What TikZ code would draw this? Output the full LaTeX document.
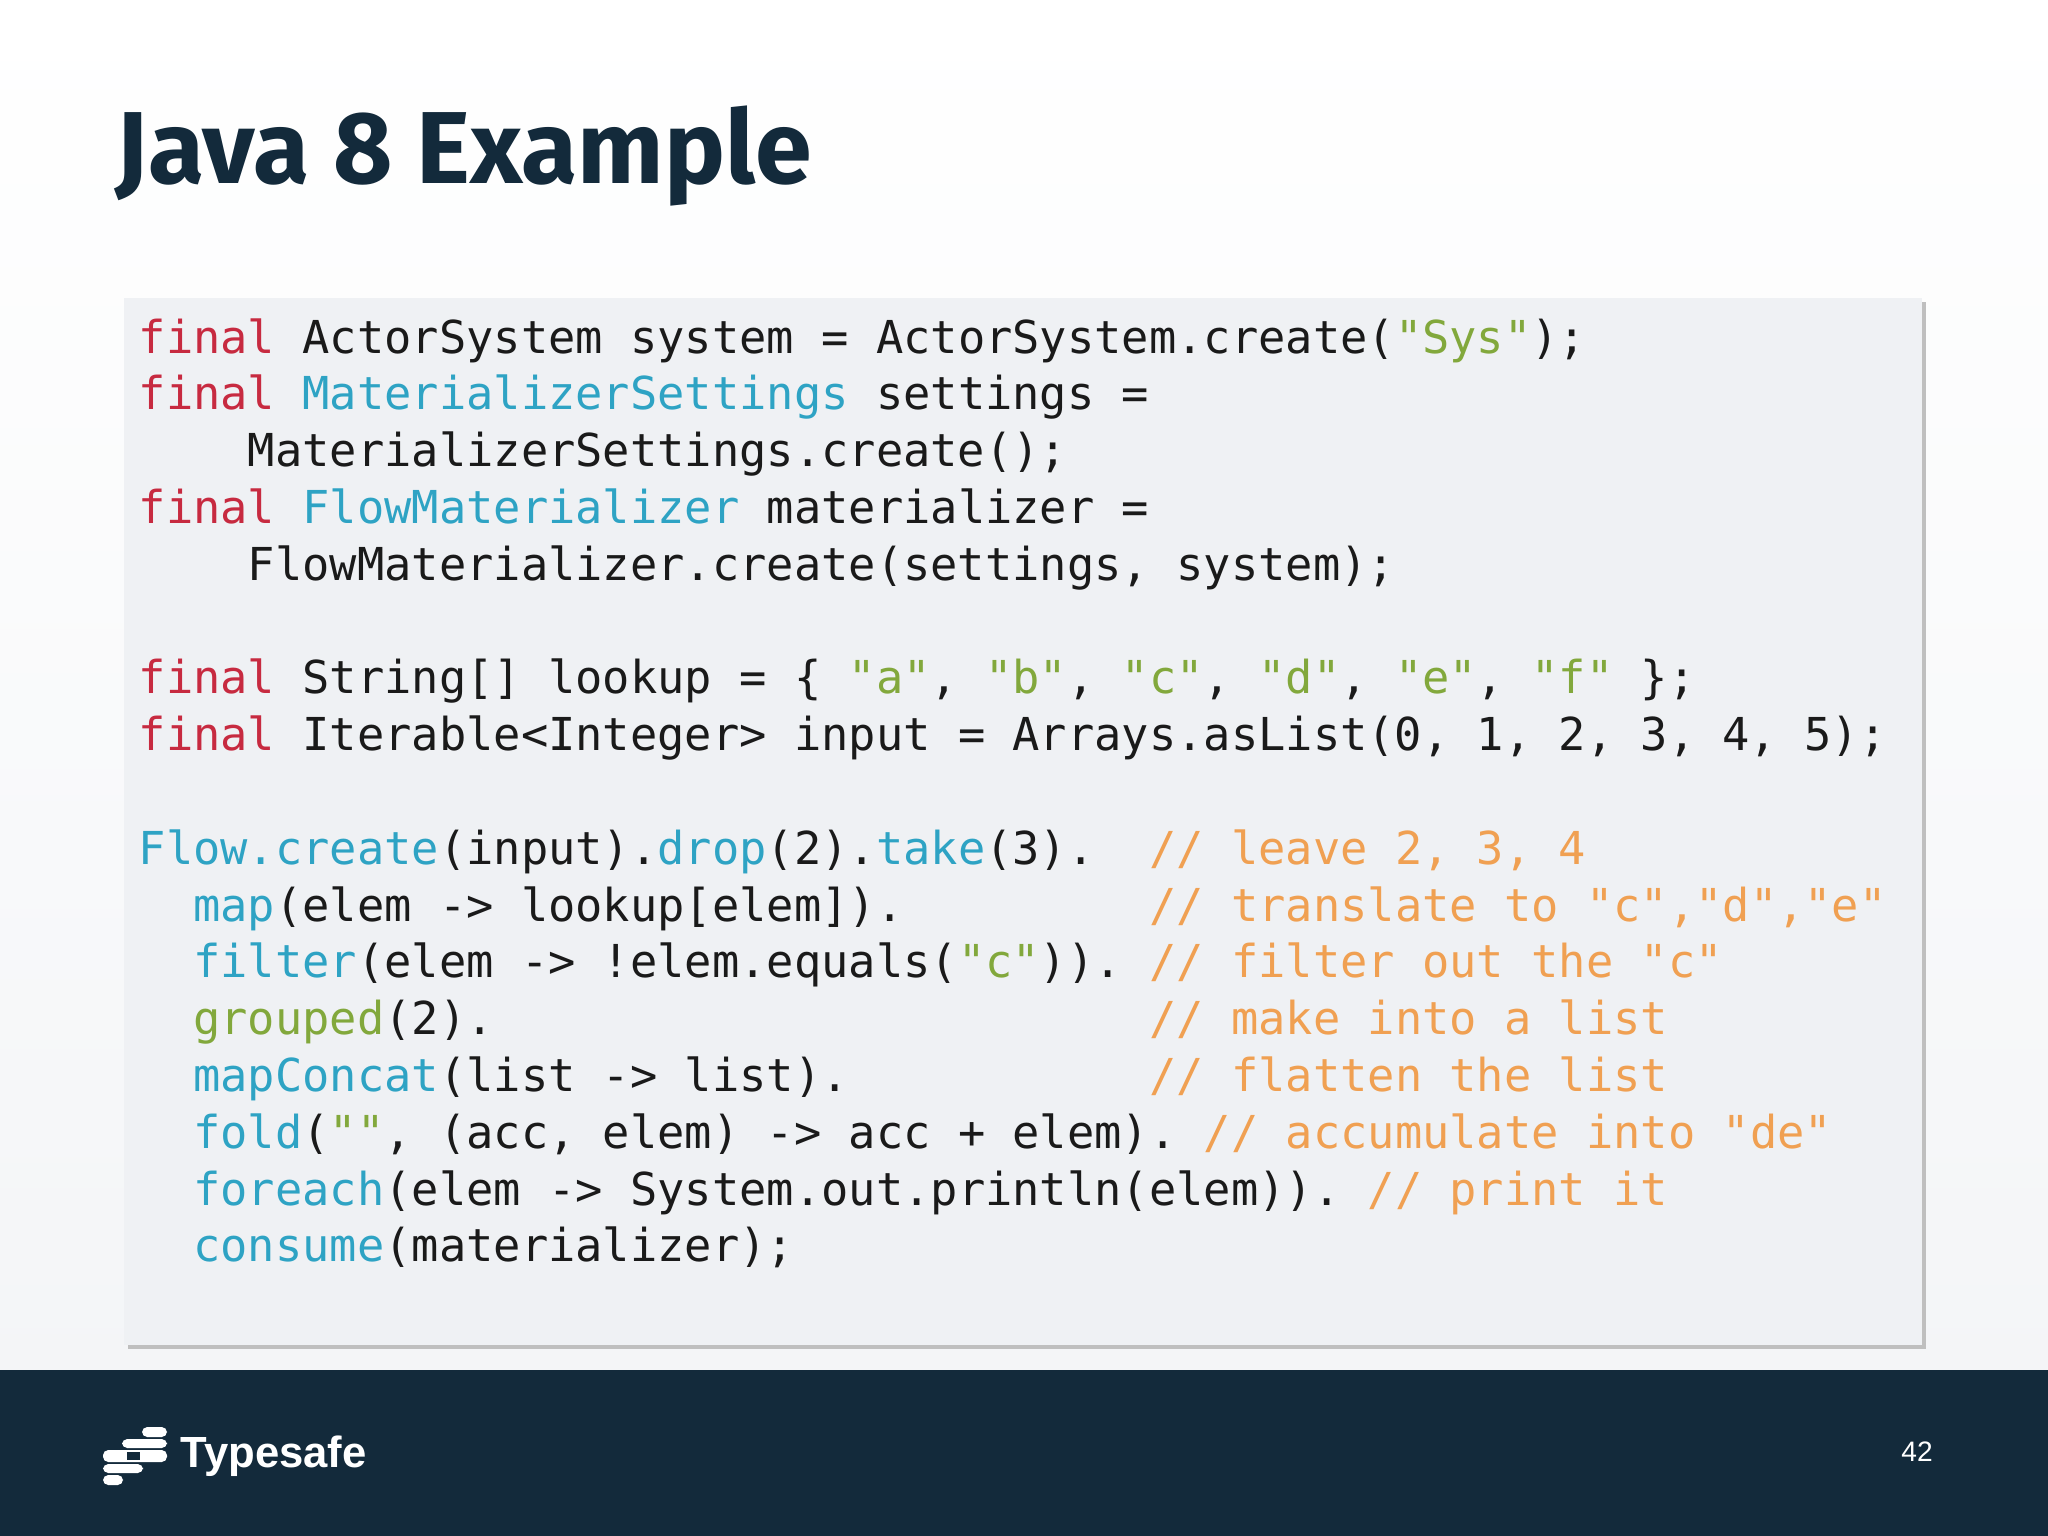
\documentclass[tikz,border=0pt]{standalone}
\usepackage{fontspec}
\setmainfont{Fira Sans}
\setmonofont{DejaVu Sans Mono}
\newfontfamily\logofont{Liberation Sans}
\usetikzlibrary{shadows}
\definecolor{navy}{HTML}{132A3B}
\definecolor{kwc}{HTML}{C72A40}
\definecolor{tyc}{HTML}{2EA3C4}
\definecolor{stc}{HTML}{82A83C}
\definecolor{cmc}{HTML}{F0A052}
\definecolor{codebg}{HTML}{EFF1F4}
\definecolor{codetx}{HTML}{1A1A1A}
\newcommand{\kw}[1]{\textcolor{kwc}{#1}}
\newcommand{\ty}[1]{\textcolor{tyc}{#1}}
\newcommand{\st}[1]{\textcolor{stc}{#1}}
\newcommand{\cm}[1]{\textcolor{cmc}{#1}}
\tikzset{codeline/.style={anchor=base west,inner sep=0pt,font=\fontsize{12.9pt}{15pt}\ttfamily,text=codetx}}
\begin{document}
\begin{tikzpicture}[x=0.01cm,y=-0.01cm]
\useasboundingbox (0,0) rectangle (2048,1536);
\shade[top color=white,bottom color=codebg!70] (0,0) rectangle (2048,1370);
\fill[navy] (0,1370) rectangle (2048,1536);
\node[anchor=base west,inner sep=0pt,font=\fontsize{29.1pt}{34pt}\selectfont\bfseries,text=navy] (title) at (115,183) {Java 8 Example};
\fill[black!25] (128,302) rectangle (1926,1349);
\fill[codebg] (124,298) rectangle (1922,1345);
\def\L#1{353+56.8*#1}
\node[codeline] (l0) at (138,{\L0}) {\kw{final} ActorSystem system = ActorSystem.create(\st{"Sys"});};
\node[codeline] (l1) at (138,{\L1}) {\kw{final} \ty{MaterializerSettings} settings =};
\node[codeline] (l2) at (138,{\L2}) {\ \ \ \ MaterializerSettings.create();};
\node[codeline] (l3) at (138,{\L3}) {\kw{final} \ty{FlowMaterializer} materializer =};
\node[codeline] (l4) at (138,{\L4}) {\ \ \ \ FlowMaterializer.create(settings, system);};
\node[codeline] (l6) at (138,{\L6}) {\kw{final} String[] lookup = \{ \st{"a"}, \st{"b"}, \st{"c"}, \st{"d"}, \st{"e"}, \st{"f"} \};};
\node[codeline] (l7) at (138,{\L7}) {\kw{final} Iterable<Integer> input = Arrays.asList(0, 1, 2, 3, 4, 5);};
\node[codeline] (l9) at (138,{\L9}) {\ty{Flow.create}(input).\ty{drop}(2).\ty{take}(3).\ \ \cm{//\ leave\ 2,\ 3,\ 4}};
\node[codeline] (l10) at (138,{\L{10}}) {\ \ \ty{map}(elem -> lookup[elem]).\ \ \ \ \ \ \ \ \ \cm{//\ translate\ to\ "c","d","e"}};
\node[codeline] (l11) at (138,{\L{11}}) {\ \ \ty{filter}(elem -> !elem.equals(\st{"c"})).\ \cm{//\ filter\ out\ the\ "c"}};
\node[codeline] (l12) at (138,{\L{12}}) {\ \ \st{grouped}(2).\ \ \ \ \ \ \ \ \ \ \ \ \ \ \ \ \ \ \ \ \ \ \ \ \cm{//\ make\ into\ a\ list}};
\node[codeline] (l13) at (138,{\L{13}}) {\ \ \ty{mapConcat}(list -> list).\ \ \ \ \ \ \ \ \ \ \ \cm{//\ flatten\ the\ list}};
\node[codeline] (l14) at (138,{\L{14}}) {\ \ \ty{fold}(\st{""}, (acc, elem) -> acc + elem).\ \cm{//\ accumulate\ into\ "de"}};
\node[codeline] (l15) at (138,{\L{15}}) {\ \ \ty{foreach}(elem -> System.out.println(elem)).\ \cm{//\ print\ it}};
\node[codeline] (l16) at (138,{\L{16}}) {\ \ \ty{consume}(materializer);};
% logo
\begin{scope}[white]
\fill[rounded corners=1.5pt] (142,1427) rectangle (167,1437);
\fill[rounded corners=1.5pt] (122,1439) rectangle (167,1448);
\fill[rounded corners=1.5pt] (103,1450) rectangle (167,1462);
\fill[rounded corners=1.5pt] (103,1464) rectangle (143,1473);
\fill[rounded corners=1.5pt] (103,1475) rectangle (123,1485);
\fill[navy] (127,1452) rectangle (140,1460);
\end{scope}
\node[anchor=base west,inner sep=0pt,font=\logofont\bfseries\fontsize{12.4pt}{14pt}\selectfont,text=white] (logo) at (180,1467) {Typesafe};
\node[anchor=base,inner sep=0pt,font=\logofont\fontsize{8pt}{10pt}\selectfont,text=white] (pg) at (1917,1461) {42};
\end{tikzpicture}
\end{document}
